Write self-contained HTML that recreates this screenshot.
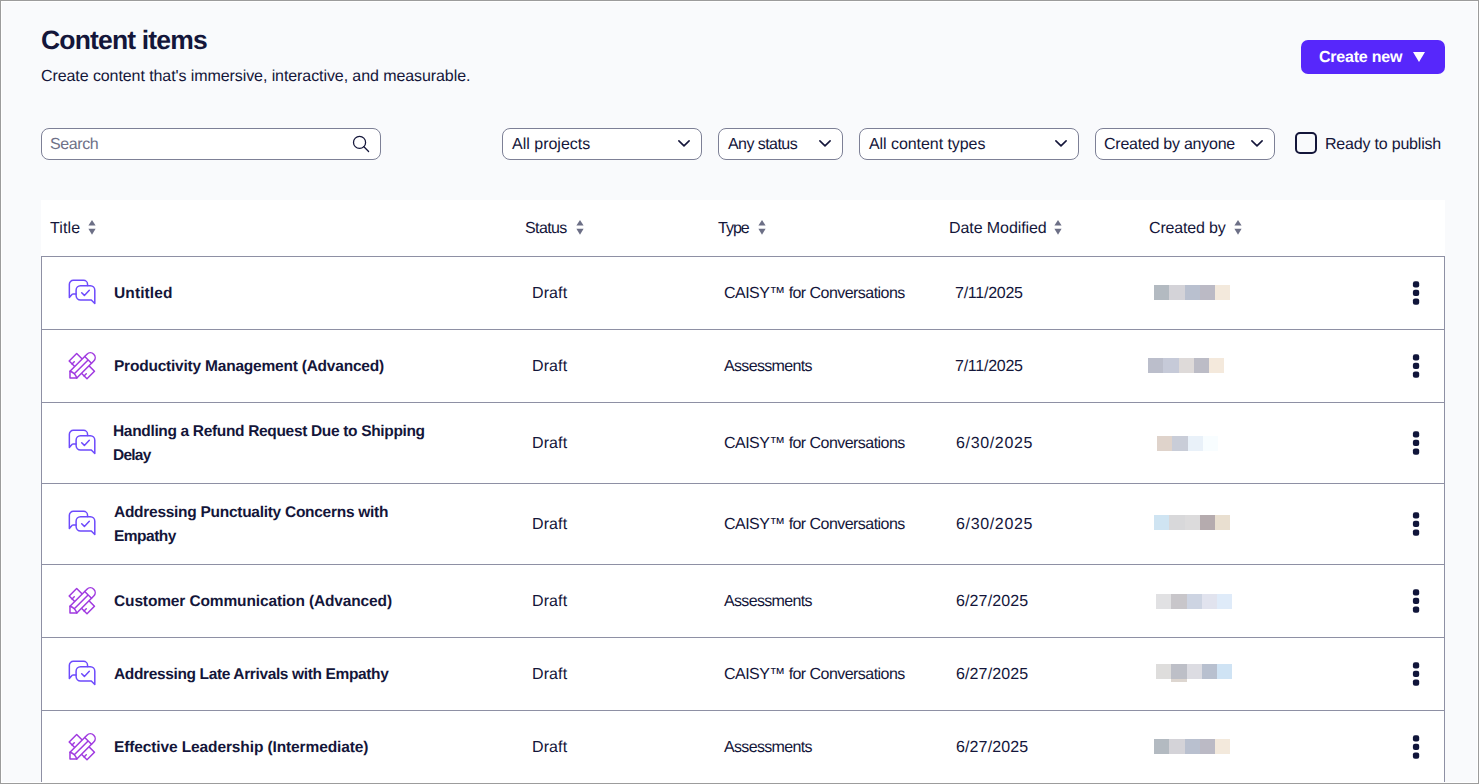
<!DOCTYPE html>
<html lang="en">
<head>
<meta charset="utf-8">
<title>Content items</title>
<style>
*{box-sizing:border-box;margin:0;padding:0}
html,body{width:1479px;height:784px;overflow:hidden}
body{background:#f9fafc;font-family:"Liberation Sans",sans-serif;color:#14163a;font-size:16px;position:relative;text-rendering:geometricPrecision}
.frame{position:absolute;left:0;top:0;width:1479px;height:784px;border:1px solid #9c9c9c;z-index:50;pointer-events:none}
.frame:after{content:"";position:absolute;left:0;top:0;right:0;bottom:0;border:1px solid #fff}
.abs{position:absolute;white-space:nowrap}
h1{position:absolute;top:25px;font-size:26.5px;line-height:30px;font-weight:700;white-space:nowrap}
.sub{top:67px;line-height:20px}
.btn{left:1301px;top:40px;width:144px;height:34px;background:#5727fb;border-radius:7px;color:#fff;font-weight:700}
.btn span{position:absolute;top:8px;line-height:20px}
.btn i{position:absolute;left:112px;top:12px;width:0;height:0;border-left:6.5px solid transparent;border-right:6.5px solid transparent;border-top:10px solid #fff}
.field{position:absolute;top:128px;height:32px;background:#fff;border:1px solid #7d8096;border-radius:8px}
.field span{position:absolute;top:6px;line-height:20px;white-space:nowrap}
.field svg.chev{position:absolute;top:11.3px;width:12px;height:7px}
.ph{color:#6e7187}
.cb{left:1295px;top:132px;width:22px;height:22px;border:2px solid #14163a;border-radius:5px}
.thead{position:absolute;left:41px;top:200px;width:1404px;height:56px;background:#fff}
.th{position:absolute;top:219px;line-height:20px;white-space:nowrap}
.sort{position:absolute;top:220px;width:8px;height:15px}
.row{position:absolute;left:41px;width:1404px;background:#fff;border:1px solid #8e90a4;border-bottom:none}
.cell{position:absolute;line-height:24px;white-space:nowrap}
.t{font-weight:700;font-size:15.5px}
.keb{position:absolute;width:7px;height:25px}
.keb b{position:absolute;left:0;width:6.5px;height:6.5px;border-radius:2.4px;background:#10153a}
.px{position:absolute;height:15px;display:flex}
.px i{display:block;width:15px;height:15px}
.ic{position:absolute;overflow:visible}
</style>
</head>
<body>
<div class="frame"></div>
<h1 style="left:41.00px"><span class="m" id="h1" style="letter-spacing:-0.833px;">Content items</span></h1>
<div class="abs sub" style="left:41.00px"><span class="m" id="sub" style="letter-spacing:-0.083px;">Create content that's immersive, interactive, and measurable.</span></div>
<div class="abs btn"><span class="m" id="btn" style="left:18.00px;letter-spacing:-0.222px;">Create new</span><i></i></div>

<div class="field" style="left:41px;width:340px"><span class="m ph" id="search" style="left:8.00px;letter-spacing:-0.400px;">Search</span>
<svg style="position:absolute;left:307px;top:3px" width="24" height="24" viewBox="0 0 24 24" fill="none" stroke="#14163a" stroke-width="1.25" stroke-linecap="round"><circle cx="10.55" cy="10.4" r="6.05"/><path d="M14.9 14.7L19.6 19.5"/></svg></div>
<div class="field" style="left:502px;width:200px"><span class="m" id="f1" style="left:9.00px;letter-spacing:-0.000px;">All projects</span><svg class="chev" style="left:175.3px" viewBox="0 0 12 7" fill="none" stroke="#14163a" stroke-width="1.6" stroke-linecap="round" stroke-linejoin="round"><path d="M0.9 0.9L6 5.9L11.1 0.9"/></svg></div>
<div class="field" style="left:718px;width:125px"><span class="m" id="f2" style="left:9.00px;letter-spacing:-0.556px;">Any status</span><svg class="chev" style="left:99.75px" viewBox="0 0 12 7" fill="none" stroke="#14163a" stroke-width="1.6" stroke-linecap="round" stroke-linejoin="round"><path d="M0.9 0.9L6 5.9L11.1 0.9"/></svg></div>
<div class="field" style="left:859px;width:220px"><span class="m" id="f3" style="left:9.00px;letter-spacing:-0.062px;">All content types</span><svg class="chev" style="left:195px" viewBox="0 0 12 7" fill="none" stroke="#14163a" stroke-width="1.6" stroke-linecap="round" stroke-linejoin="round"><path d="M0.9 0.9L6 5.9L11.1 0.9"/></svg></div>
<div class="field" style="left:1095px;width:180px"><span class="m" id="f4" style="left:8.00px;letter-spacing:-0.250px;">Created by anyone</span><svg class="chev" style="left:154.6px" viewBox="0 0 12 7" fill="none" stroke="#14163a" stroke-width="1.6" stroke-linecap="round" stroke-linejoin="round"><path d="M0.9 0.9L6 5.9L11.1 0.9"/></svg></div>
<div class="abs cb"></div>
<div class="abs" style="left:1325.00px;top:135px;line-height:20px"><span class="m" id="ready" style="letter-spacing:-0.200px;">Ready to publish</span></div>

<div class="thead"></div>
<div class="th" style="left:50.00px"><span class="m" id="th1" style="letter-spacing:0.100px;">Title</span></div>
<div class="th" style="left:525.00px"><span class="m" id="th2" style="letter-spacing:-0.600px;">Status</span></div>
<div class="th" style="left:718.00px"><span class="m" id="th3" style="letter-spacing:-1.000px;">Type</span></div>
<div class="th" style="left:949.00px"><span class="m" id="th4" style="letter-spacing:-0.083px;">Date Modified</span></div>
<div class="th" style="left:1149.00px"><span class="m" id="th5" style="letter-spacing:-0.178px;">Created by</span></div>
<svg class="sort" style="left:87.5px" viewBox="0 0 8 15"><path d="M4 0L7.6 5.6H0.4Z" fill="#6c6f86"/><path d="M4 14.7L7.6 8.7H0.4Z" fill="#6c6f86"/></svg>
<svg class="sort" style="left:576.3px" viewBox="0 0 8 15"><path d="M4 0L7.6 5.6H0.4Z" fill="#6c6f86"/><path d="M4 14.7L7.6 8.7H0.4Z" fill="#6c6f86"/></svg>
<svg class="sort" style="left:758.3px" viewBox="0 0 8 15"><path d="M4 0L7.6 5.6H0.4Z" fill="#6c6f86"/><path d="M4 14.7L7.6 8.7H0.4Z" fill="#6c6f86"/></svg>
<svg class="sort" style="left:1054.3px" viewBox="0 0 8 15"><path d="M4 0L7.6 5.6H0.4Z" fill="#6c6f86"/><path d="M4 14.7L7.6 8.7H0.4Z" fill="#6c6f86"/></svg>
<svg class="sort" style="left:1234.2px" viewBox="0 0 8 15"><path d="M4 0L7.6 5.6H0.4Z" fill="#6c6f86"/><path d="M4 14.7L7.6 8.7H0.4Z" fill="#6c6f86"/></svg>

<div class="row" style="top:256px;height:74px"></div>
<svg class="ic" style="left:66px;top:277px" width="32" height="30" viewBox="0 0 32 30" fill="none" stroke="#6d4afc" stroke-width="1.5" stroke-linecap="round" stroke-linejoin="round"><path d="M10 16.9H7.2Q6.6 16.9 6.2 17.3L3.35 20.4V7.3A4 4 0 0 1 7.35 3.3H17.55A4 4 0 0 1 21.55 7.3V8.6"/><path d="M14.5 8.8H24.4A4.4 4.4 0 0 1 28.8 13.2V26.5L25.3 22.9H14.5A4.4 4.4 0 0 1 10.1 18.5V13.2A4.4 4.4 0 0 1 14.5 8.8Z"/><path d="M15.7 15.7L18.4 18.4L23.3 13.3"/></svg>
<div class="cell t" style="left:114.0px;top:282.0px"><span class="m" id="r0t0" style="letter-spacing:0.114px;">Untitled</span></div>
<div class="cell" style="left:532.0px;top:282.0px"><span class="m" id="r0s" style="letter-spacing:0.100px;">Draft</span></div>
<div class="cell" style="left:724.0px;top:282.0px"><span class="m" id="r0y" style="letter-spacing:-0.548px;">CAISY™ for Conversations</span></div>
<div class="cell" style="left:955.0px;top:282.0px"><span class="m" id="r0d" style="letter-spacing:-0.250px;">7/11/2025</span></div>
<div class="px" style="left:1154px;top:285px"><i style="width:15px;background:#b3bac1"></i><i style="width:16px;background:#d4d3d8"></i><i style="width:15px;background:#b9c0cf"></i><i style="width:15px;background:#bbbac5"></i><i style="width:15px;background:#f3e9dc"></i></div>
<svg class="ic" style="left:1410px;top:279px" width="12" height="28" viewBox="0 0 12 28" fill="#10153a"><rect x="2.9" y="2.3" width="6.3" height="6.3" rx="2.1"/><rect x="2.9" y="10.75" width="6.3" height="6.3" rx="2.1"/><rect x="2.9" y="19.45" width="6.3" height="6.3" rx="2.1"/></svg>
<div class="row" style="top:329px;height:74px"></div>
<svg class="ic" style="left:68px;top:351px" width="30" height="30" viewBox="0 0 30 30" fill="none" stroke="#a03ae0" stroke-width="1.5" stroke-linecap="round" stroke-linejoin="round"><g transform="translate(13.82 15.17) rotate(-45)"><rect x="-5.3" y="-12.6" width="10.6" height="25.2"/><path d="M-5.3 -8.5H-2.2M-5.3 8.5H-2.2"/></g><g transform="translate(1.99 27.02) rotate(45)"><path d="M0 0L-4.81 -4.81V-28.8A4.81 4.81 0 0 1 4.81 -28.8V-4.81Z" fill="#fff"/><path d="M-4.81 -25.6H4.81M0 -25.6V-6.1M-4.81 -4.81Q0 -7.3 4.81 -4.81"/></g></svg>
<div class="cell t" style="left:114.0px;top:355.0px"><span class="m" id="r1t0" style="letter-spacing:-0.218px;">Productivity Management (Advanced)</span></div>
<div class="cell" style="left:532.0px;top:355.0px"><span class="m" id="r1s" style="letter-spacing:0.100px;">Draft</span></div>
<div class="cell" style="left:724.0px;top:355.0px"><span class="m" id="r1y" style="letter-spacing:-0.660px;">Assessments</span></div>
<div class="cell" style="left:955.0px;top:355.0px"><span class="m" id="r1d" style="letter-spacing:-0.250px;">7/11/2025</span></div>
<div class="px" style="left:1148px;top:358px"><i style="width:15px;background:#bbbecb"></i><i style="width:16px;background:#c6cad8"></i><i style="width:15px;background:#dedad9"></i><i style="width:15px;background:#bcbcc6"></i><i style="width:15px;background:#f4e9dc"></i></div>
<svg class="ic" style="left:1410px;top:352px" width="12" height="28" viewBox="0 0 12 28" fill="#10153a"><rect x="2.9" y="2.3" width="6.3" height="6.3" rx="2.1"/><rect x="2.9" y="10.75" width="6.3" height="6.3" rx="2.1"/><rect x="2.9" y="19.45" width="6.3" height="6.3" rx="2.1"/></svg>
<div class="row" style="top:402px;height:82px"></div>
<svg class="ic" style="left:66px;top:427px" width="32" height="30" viewBox="0 0 32 30" fill="none" stroke="#6d4afc" stroke-width="1.5" stroke-linecap="round" stroke-linejoin="round"><path d="M10 16.9H7.2Q6.6 16.9 6.2 17.3L3.35 20.4V7.3A4 4 0 0 1 7.35 3.3H17.55A4 4 0 0 1 21.55 7.3V8.6"/><path d="M14.5 8.8H24.4A4.4 4.4 0 0 1 28.8 13.2V26.5L25.3 22.9H14.5A4.4 4.4 0 0 1 10.1 18.5V13.2A4.4 4.4 0 0 1 14.5 8.8Z"/><path d="M15.7 15.7L18.4 18.4L23.3 13.3"/></svg>
<div class="cell t" style="left:113.0px;top:420.0px"><span class="m" id="r2t0" style="letter-spacing:-0.335px;">Handling a Refund Request Due to Shipping</span></div>
<div class="cell t" style="left:113.0px;top:444.0px"><span class="m" id="r2t1" style="letter-spacing:-0.750px;">Delay</span></div>
<div class="cell" style="left:532.0px;top:432.0px"><span class="m" id="r2s" style="letter-spacing:0.100px;">Draft</span></div>
<div class="cell" style="left:724.0px;top:432.0px"><span class="m" id="r2y" style="letter-spacing:-0.548px;">CAISY™ for Conversations</span></div>
<div class="cell" style="left:956.0px;top:432.0px"><span class="m" id="r2d" style="letter-spacing:0.650px;">6/30/2025</span></div>
<div class="px" style="left:1157px;top:436px"><i style="width:15px;background:#dfd3cb"></i><i style="width:16px;background:#c9cdd8"></i><i style="width:15px;background:#e9f1f9"></i><i style="width:15px;background:#f8fdff"></i></div>
<svg class="ic" style="left:1410px;top:429px" width="12" height="28" viewBox="0 0 12 28" fill="#10153a"><rect x="2.9" y="2.3" width="6.3" height="6.3" rx="2.1"/><rect x="2.9" y="10.75" width="6.3" height="6.3" rx="2.1"/><rect x="2.9" y="19.45" width="6.3" height="6.3" rx="2.1"/></svg>
<div class="row" style="top:483px;height:82px"></div>
<svg class="ic" style="left:66px;top:508px" width="32" height="30" viewBox="0 0 32 30" fill="none" stroke="#6d4afc" stroke-width="1.5" stroke-linecap="round" stroke-linejoin="round"><path d="M10 16.9H7.2Q6.6 16.9 6.2 17.3L3.35 20.4V7.3A4 4 0 0 1 7.35 3.3H17.55A4 4 0 0 1 21.55 7.3V8.6"/><path d="M14.5 8.8H24.4A4.4 4.4 0 0 1 28.8 13.2V26.5L25.3 22.9H14.5A4.4 4.4 0 0 1 10.1 18.5V13.2A4.4 4.4 0 0 1 14.5 8.8Z"/><path d="M15.7 15.7L18.4 18.4L23.3 13.3"/></svg>
<div class="cell t" style="left:114.0px;top:501.0px"><span class="m" id="r3t0" style="letter-spacing:-0.280px;">Addressing Punctuality Concerns with</span></div>
<div class="cell t" style="left:114.0px;top:525.0px"><span class="m" id="r3t1" style="letter-spacing:-0.500px;">Empathy</span></div>
<div class="cell" style="left:532.0px;top:513.0px"><span class="m" id="r3s" style="letter-spacing:0.100px;">Draft</span></div>
<div class="cell" style="left:724.0px;top:513.0px"><span class="m" id="r3y" style="letter-spacing:-0.548px;">CAISY™ for Conversations</span></div>
<div class="cell" style="left:956.0px;top:513.0px"><span class="m" id="r3d" style="letter-spacing:0.650px;">6/30/2025</span></div>
<div class="px" style="left:1154px;top:515px"><i style="width:15px;background:#cfe4f2"></i><i style="width:16px;background:#d8d8da"></i><i style="width:15px;background:#dcdbdc"></i><i style="width:15px;background:#b5abae"></i><i style="width:15px;background:#e9dfd0"></i></div>
<svg class="ic" style="left:1410px;top:510px" width="12" height="28" viewBox="0 0 12 28" fill="#10153a"><rect x="2.9" y="2.3" width="6.3" height="6.3" rx="2.1"/><rect x="2.9" y="10.75" width="6.3" height="6.3" rx="2.1"/><rect x="2.9" y="19.45" width="6.3" height="6.3" rx="2.1"/></svg>
<div class="row" style="top:564px;height:74px"></div>
<svg class="ic" style="left:68px;top:586px" width="30" height="30" viewBox="0 0 30 30" fill="none" stroke="#a03ae0" stroke-width="1.5" stroke-linecap="round" stroke-linejoin="round"><g transform="translate(13.82 15.17) rotate(-45)"><rect x="-5.3" y="-12.6" width="10.6" height="25.2"/><path d="M-5.3 -8.5H-2.2M-5.3 8.5H-2.2"/></g><g transform="translate(1.99 27.02) rotate(45)"><path d="M0 0L-4.81 -4.81V-28.8A4.81 4.81 0 0 1 4.81 -28.8V-4.81Z" fill="#fff"/><path d="M-4.81 -25.6H4.81M0 -25.6V-6.1M-4.81 -4.81Q0 -7.3 4.81 -4.81"/></g></svg>
<div class="cell t" style="left:114.0px;top:590.0px"><span class="m" id="r4t0" style="letter-spacing:-0.138px;">Customer Communication (Advanced)</span></div>
<div class="cell" style="left:532.0px;top:590.0px"><span class="m" id="r4s" style="letter-spacing:0.100px;">Draft</span></div>
<div class="cell" style="left:724.0px;top:590.0px"><span class="m" id="r4y" style="letter-spacing:-0.660px;">Assessments</span></div>
<div class="cell" style="left:956.0px;top:590.0px"><span class="m" id="r4d" style="letter-spacing:0.125px;">6/27/2025</span></div>
<div class="px" style="left:1156px;top:594px"><i style="width:15px;background:#e1e1e3"></i><i style="width:16px;background:#c8c6ca"></i><i style="width:15px;background:#cdd4e2"></i><i style="width:15px;background:#e1e3ee"></i><i style="width:15px;background:#dfebf9"></i></div>
<svg class="ic" style="left:1410px;top:587px" width="12" height="28" viewBox="0 0 12 28" fill="#10153a"><rect x="2.9" y="2.3" width="6.3" height="6.3" rx="2.1"/><rect x="2.9" y="10.75" width="6.3" height="6.3" rx="2.1"/><rect x="2.9" y="19.45" width="6.3" height="6.3" rx="2.1"/></svg>
<div class="row" style="top:637px;height:74px"></div>
<svg class="ic" style="left:66px;top:658px" width="32" height="30" viewBox="0 0 32 30" fill="none" stroke="#6d4afc" stroke-width="1.5" stroke-linecap="round" stroke-linejoin="round"><path d="M10 16.9H7.2Q6.6 16.9 6.2 17.3L3.35 20.4V7.3A4 4 0 0 1 7.35 3.3H17.55A4 4 0 0 1 21.55 7.3V8.6"/><path d="M14.5 8.8H24.4A4.4 4.4 0 0 1 28.8 13.2V26.5L25.3 22.9H14.5A4.4 4.4 0 0 1 10.1 18.5V13.2A4.4 4.4 0 0 1 14.5 8.8Z"/><path d="M15.7 15.7L18.4 18.4L23.3 13.3"/></svg>
<div class="cell t" style="left:114.0px;top:663.0px"><span class="m" id="r5t0" style="letter-spacing:-0.367px;">Addressing Late Arrivals with Empathy</span></div>
<div class="cell" style="left:532.0px;top:663.0px"><span class="m" id="r5s" style="letter-spacing:0.100px;">Draft</span></div>
<div class="cell" style="left:724.0px;top:663.0px"><span class="m" id="r5y" style="letter-spacing:-0.548px;">CAISY™ for Conversations</span></div>
<div class="cell" style="left:956.0px;top:663.0px"><span class="m" id="r5d" style="letter-spacing:0.125px;">6/27/2025</span></div>
<div class="px" style="left:1156px;top:664px"><i style="width:15px;background:#dedddc"></i><i style="width:16px;background:#bdbfc7"></i><i style="width:15px;background:#dcdce2"></i><i style="width:15px;background:#b8c0cf"></i><i style="width:15px;background:#cfe3f4"></i></div>
<div class="px" style="left:1171px;top:679px;height:3px"><i style="width:16px;height:3px;background:#ddd6d0"></i></div>
<svg class="ic" style="left:1410px;top:660px" width="12" height="28" viewBox="0 0 12 28" fill="#10153a"><rect x="2.9" y="2.3" width="6.3" height="6.3" rx="2.1"/><rect x="2.9" y="10.75" width="6.3" height="6.3" rx="2.1"/><rect x="2.9" y="19.45" width="6.3" height="6.3" rx="2.1"/></svg>
<div class="row" style="top:710px;height:75px"></div>
<svg class="ic" style="left:68px;top:732px" width="30" height="30" viewBox="0 0 30 30" fill="none" stroke="#a03ae0" stroke-width="1.5" stroke-linecap="round" stroke-linejoin="round"><g transform="translate(13.82 15.17) rotate(-45)"><rect x="-5.3" y="-12.6" width="10.6" height="25.2"/><path d="M-5.3 -8.5H-2.2M-5.3 8.5H-2.2"/></g><g transform="translate(1.99 27.02) rotate(45)"><path d="M0 0L-4.81 -4.81V-28.8A4.81 4.81 0 0 1 4.81 -28.8V-4.81Z" fill="#fff"/><path d="M-4.81 -25.6H4.81M0 -25.6V-6.1M-4.81 -4.81Q0 -7.3 4.81 -4.81"/></g></svg>
<div class="cell t" style="left:114.0px;top:736.0px"><span class="m" id="r6t0" style="letter-spacing:-0.118px;">Effective Leadership (Intermediate)</span></div>
<div class="cell" style="left:532.0px;top:736.0px"><span class="m" id="r6s" style="letter-spacing:0.100px;">Draft</span></div>
<div class="cell" style="left:724.0px;top:736.0px"><span class="m" id="r6y" style="letter-spacing:-0.660px;">Assessments</span></div>
<div class="cell" style="left:956.0px;top:736.0px"><span class="m" id="r6d" style="letter-spacing:0.125px;">6/27/2025</span></div>
<div class="px" style="left:1154px;top:739px"><i style="width:15px;background:#b3bac1"></i><i style="width:16px;background:#d4d3d8"></i><i style="width:15px;background:#b9c0cf"></i><i style="width:15px;background:#bbbac5"></i><i style="width:15px;background:#f3e9dc"></i></div>
<svg class="ic" style="left:1410px;top:733px" width="12" height="28" viewBox="0 0 12 28" fill="#10153a"><rect x="2.9" y="2.3" width="6.3" height="6.3" rx="2.1"/><rect x="2.9" y="10.75" width="6.3" height="6.3" rx="2.1"/><rect x="2.9" y="19.45" width="6.3" height="6.3" rx="2.1"/></svg>
</body>
</html>
